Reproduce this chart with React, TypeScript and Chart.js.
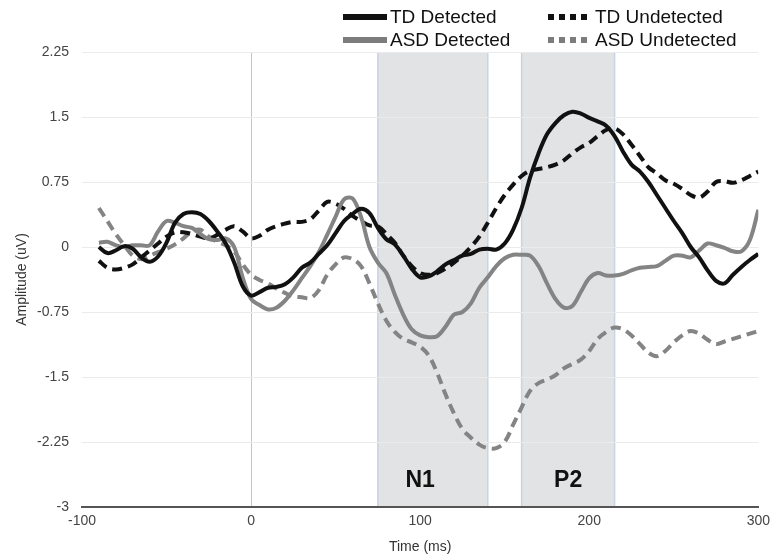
import React, { useEffect, useRef } from "react";
import { Chart, registerables } from "chart.js";

Chart.register(...registerables);

// ---- data ----
const times: number[] = [
  -90, -85, -80, -75, -70, -65, -60, -55, -50, -45, -40, -35, -30, -25, -20, -15, -10, -5,
  0, 5, 10, 15, 20, 25, 30, 35, 40, 45, 50, 55, 60, 65, 70, 75, 80, 85, 90, 95,
  100, 105, 110, 115, 120, 125, 130, 135, 140, 145, 150, 155, 160, 165, 170, 175, 180, 185, 190, 195,
  200, 205, 210, 215, 220, 225, 230, 235, 240, 245, 250, 255, 260, 265, 270, 275, 280, 285, 290, 295, 300,
];

const tdDetected: number[] = [
  0.0, -0.07, -0.04, 0.01, -0.02, -0.12, -0.17, -0.11, 0.05, 0.28, 0.38, 0.4, 0.38, 0.3, 0.18, 0.04, -0.18, -0.45,
  -0.56, -0.52, -0.47, -0.46, -0.43, -0.35, -0.24, -0.18, -0.08, 0.02, 0.16, 0.3, 0.38, 0.44, 0.39, 0.22, 0.09, 0.03, -0.1, -0.25,
  -0.35, -0.34, -0.28, -0.2, -0.15, -0.1, -0.08, -0.03, -0.02, -0.03, 0.04, 0.2, 0.45, 0.8, 1.08, 1.3, 1.43, 1.52, 1.56, 1.54,
  1.49, 1.45, 1.4, 1.28, 1.1, 0.95, 0.87, 0.75, 0.6, 0.45, 0.3, 0.16, 0.0, -0.12, -0.27, -0.39, -0.42, -0.32, -0.23, -0.15, -0.08,
];

const tdUndetected: number[] = [
  -0.16, -0.24, -0.26, -0.24, -0.2, -0.12, -0.04, 0.04, 0.12, 0.17, 0.17, 0.15, 0.12, 0.1, 0.14, 0.2, 0.24, 0.18,
  0.1, 0.13, 0.2, 0.24, 0.27, 0.29, 0.29, 0.32, 0.42, 0.52, 0.5, 0.44, 0.36, 0.3, 0.25, 0.24, 0.15, 0.05, -0.1, -0.22,
  -0.3, -0.32, -0.3, -0.25, -0.18, -0.1, 0.0, 0.12, 0.28, 0.45, 0.6, 0.72, 0.82, 0.88, 0.9, 0.92, 0.95, 1.0, 1.08, 1.15,
  1.2, 1.28, 1.35, 1.37, 1.3, 1.18, 1.05, 0.92, 0.85, 0.77, 0.73, 0.67, 0.6, 0.57, 0.64, 0.75, 0.76, 0.74, 0.77, 0.82, 0.87,
];

const asdDetected: number[] = [
  0.05, 0.06, 0.02, 0.0, 0.02, 0.02, 0.02, 0.18, 0.3, 0.28, 0.24, 0.22, 0.15, 0.09, 0.08, 0.1, 0.0, -0.35,
  -0.6, -0.67, -0.72, -0.7, -0.62, -0.5, -0.36, -0.22, -0.06, 0.14, 0.35, 0.55, 0.56, 0.35, 0.0, -0.18, -0.3, -0.55, -0.78, -0.95,
  -1.02, -1.04, -1.03, -0.92, -0.78, -0.75, -0.65, -0.47, -0.35, -0.22, -0.13, -0.09, -0.09, -0.1, -0.22, -0.42, -0.6, -0.7, -0.68, -0.52,
  -0.36, -0.3, -0.33, -0.33, -0.31, -0.27, -0.24, -0.23, -0.22, -0.16, -0.1, -0.1, -0.12, -0.04, 0.04, 0.02, -0.01, -0.05, -0.05, 0.08, 0.43,
];

const asdUndetected: number[] = [
  0.45, 0.3, 0.15, 0.02, -0.1, -0.14, -0.1, -0.06, -0.02, 0.03, 0.1, 0.18, 0.2, 0.12, 0.06, 0.02, -0.05, -0.2,
  -0.32, -0.38, -0.42, -0.48, -0.53, -0.57, -0.58, -0.59, -0.5, -0.32, -0.2, -0.12, -0.14, -0.22, -0.42, -0.65, -0.85, -0.98, -1.06, -1.1,
  -1.15, -1.25, -1.45, -1.7, -1.92, -2.1, -2.2, -2.28, -2.32, -2.32, -2.25, -2.05, -1.85, -1.66, -1.57, -1.53, -1.48, -1.4, -1.35, -1.3,
  -1.2, -1.06, -0.98, -0.93, -0.95, -1.02, -1.12, -1.22, -1.26, -1.2, -1.1, -1.02, -0.97, -1.0, -1.07, -1.12, -1.09, -1.06, -1.03, -1.0, -0.97,
];

const xTicks: number[] = [-100, 0, 100, 200, 300];
const yTicks: number[] = [-3, -2.25, -1.5, -0.75, 0, 0.75, 1.5, 2.25];

// time windows (ms) and their labels
const windowStarts: number[] = [75, 160];
const windowEnds: number[] = [140, 215];
const windowLabels: string[] = ["N1", "P2"];
const windowLabelTimes: number[] = [100, 187.5];
const windowLabelValue = -2.7;

const FONT = "'Liberation Sans', Arial, Helvetica, sans-serif";
const BLACK = "#111111";
const GREY = "#848484";

const windowsPlugin = {
  id: "windows",
  beforeDraw(chart: any) {
    const { ctx, chartArea, scales } = chart;
    ctx.save();
    for (let i = 0; i < windowStarts.length; i++) {
      const x0 = scales.x.getPixelForValue(windowStarts[i]);
      const x1 = scales.x.getPixelForValue(windowEnds[i]);
      ctx.fillStyle = "#e2e3e4";
      ctx.fillRect(x0, chartArea.top, x1 - x0, chartArea.bottom - chartArea.top);
      ctx.strokeStyle = "#c6d4e3";
      ctx.lineWidth = 1.5;
      ctx.beginPath();
      ctx.moveTo(x0, chartArea.top);
      ctx.lineTo(x0, chartArea.bottom);
      ctx.moveTo(x1, chartArea.top);
      ctx.lineTo(x1, chartArea.bottom);
      ctx.stroke();
    }
    ctx.restore();
  },
  afterDraw(chart: any) {
    const { ctx, scales } = chart;
    ctx.save();
    ctx.fillStyle = BLACK;
    ctx.font = `bold 23px ${FONT}`;
    ctx.textAlign = "center";
    ctx.textBaseline = "middle";
    for (let i = 0; i < windowLabels.length; i++) {
      ctx.fillText(
        windowLabels[i],
        scales.x.getPixelForValue(windowLabelTimes[i]),
        scales.y.getPixelForValue(windowLabelValue)
      );
    }
    ctx.restore();
  },
};

function series(values: number[]) {
  return values.map((v, i) => ({ x: times[i], y: v }));
}

const legendItems = [
  { label: "TD Detected", color: BLACK, dotted: false, left: 343, top: 17 },
  { label: "ASD Detected", color: "#7c7c7c", dotted: false, left: 343, top: 40 },
  { label: "TD Undetected", color: BLACK, dotted: true, left: 548, top: 17 },
  { label: "ASD Undetected", color: "#7c7c7c", dotted: true, left: 548, top: 40 },
];

export default function App() {
  const canvasRef = useRef<HTMLCanvasElement | null>(null);

  useEffect(() => {
    if (!canvasRef.current) return;
    const chart = new Chart(canvasRef.current, {
      type: "line",
      data: {
        datasets: [
          {
            label: "TD Detected",
            data: series(tdDetected),
            borderColor: BLACK,
            borderWidth: 4,
            pointRadius: 0,
            tension: 0.35,
          },
          {
            label: "ASD Detected",
            data: series(asdDetected),
            borderColor: GREY,
            borderWidth: 4,
            pointRadius: 0,
            tension: 0.35,
          },
          {
            label: "TD Undetected",
            data: series(tdUndetected),
            borderColor: BLACK,
            borderWidth: 4,
            borderDash: [10, 6],
            pointRadius: 0,
            tension: 0.35,
          },
          {
            label: "ASD Undetected",
            data: series(asdUndetected),
            borderColor: GREY,
            borderWidth: 4,
            borderDash: [10, 6],
            pointRadius: 0,
            tension: 0.35,
          },
        ],
      },
      options: {
        animation: false,
        responsive: false,
        events: [],
        layout: { padding: { top: 52, right: 15, bottom: 0, left: 0 } },
        plugins: {
          legend: { display: false },
          tooltip: { enabled: false },
        },
        scales: {
          x: {
            type: "linear",
            min: -100,
            max: 300,
            afterBuildTicks: (s: any) => {
              s.ticks = xTicks.map((v) => ({ value: v }));
            },
            afterFit: (s: any) => {
              s.height = 53;
            },
            ticks: {
              padding: 6,
              color: "#444",
              font: { family: FONT, size: 14 },
              callback: (v: any) => String(v),
            },
            grid: {
              drawTicks: false,
              lineWidth: 1,
              color: (c: any) => (c.tick && c.tick.value === 0 ? "#c4c4c4" : "rgba(0,0,0,0)"),
            },
            border: { display: true, color: "#555", width: 2 },
            title: {
              display: true,
              text: "Time (ms)",
              color: "#333",
              font: { family: FONT, size: 14 },
              padding: { top: 0, bottom: 4 },
            },
          },
          y: {
            type: "linear",
            min: -3,
            max: 2.25,
            afterBuildTicks: (s: any) => {
              s.ticks = yTicks.map((v) => ({ value: v }));
            },
            afterFit: (s: any) => {
              s.width = 82;
            },
            ticks: {
              padding: 13,
              color: "#444",
              font: { family: FONT, size: 14 },
              callback: (v: any) => String(v),
            },
            grid: { drawTicks: false, color: "#ebebeb", lineWidth: 1 },
            border: { display: false },
            title: {
              display: true,
              text: "Amplitude (uV)",
              color: "#333",
              font: { family: FONT, size: 14 },
              padding: { top: 14, bottom: 0 },
            },
          },
        },
      },
      plugins: [windowsPlugin],
    });
    return () => chart.destroy();
  }, []);

  return (
    <div
      style={{
        position: "fixed",
        left: 0,
        top: 0,
        width: 776,
        height: 560,
        background: "#fff",
        fontFamily: FONT,
      }}
    >
      <canvas ref={canvasRef} width={776} height={560} style={{ display: "block" }} />
      {legendItems.map((it) => (
        <React.Fragment key={it.label}>
          <div
            style={{
              position: "absolute",
              left: it.left,
              top: it.top - 3,
              width: it.dotted ? 39 : 44,
              height: 6,
              background: it.dotted
                ? `repeating-linear-gradient(to right, ${it.color} 0px, ${it.color} 6px, transparent 6px, transparent 11px)`
                : it.color,
            }}
          />
          <div
            style={{
              position: "absolute",
              left: it.left + 47,
              top: it.top - 12,
              height: 24,
              lineHeight: "24px",
              fontSize: 19,
              color: "#111",
              whiteSpace: "nowrap",
            }}
          >
            {it.label}
          </div>
        </React.Fragment>
      ))}
    </div>
  );
}
